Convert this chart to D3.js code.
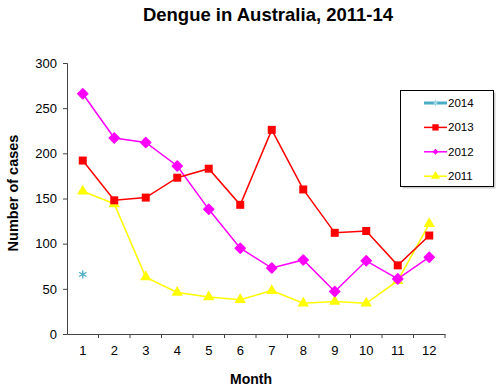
<!DOCTYPE html>
<html><head><meta charset="utf-8">
<script src="https://cdn.jsdelivr.net/npm/d3@7"></script>
<style>body{margin:0;background:#fff}svg{display:block}text{font-family:"Liberation Sans",Arial,sans-serif}</style>
</head><body><svg id="c" width="500" height="390"></svg>
<script>
const months = ["1","2","3","4","5","6","7","8","9","10","11","12"];
const yTicks = [0,50,100,150,200,250,300];
const s2014 = [66,null,null,null,null,null,null,null,null,null,null,null];
const s2013 = [192,148,151,173,183,143,226,160,112,114,76,109];
const s2012 = [266,217,212,186,138,95,73,82,47,81,61,85];
const s2011 = [158,144,63,46,41,38,48,34,36,34,59,122];
const seriesNames = ["2014","2013","2012","2011"];

const svg = d3.select("#c");
const x = d3.scaleBand().domain(months).range([67,445]);
const y = d3.scaleLinear().domain([0,300]).range([334,63]);

svg.append("text").attr("x",268).attr("y",21).attr("text-anchor","middle")
  .attr("font-size",18.5).attr("font-weight","bold").text("Dengue in Australia, 2011-14");

const ya = svg.append("g").attr("transform","translate(67,0)")
  .call(d3.axisLeft(y).tickValues(yTicks).tickSize(4).tickPadding(6));
ya.selectAll("text").attr("font-size",13).attr("fill","#000").style("font-family","Liberation Sans, Arial, sans-serif");
ya.selectAll("line,path").attr("stroke","#444");

const xa = svg.append("g").attr("transform","translate(0,334)")
  .call(d3.axisBottom(x).tickSize(0).tickPadding(12));
xa.selectAll("text").attr("font-size",13).attr("fill","#000").style("font-family","Liberation Sans, Arial, sans-serif");
xa.select("path").attr("stroke","#444");
xa.selectAll("line").remove();
svg.append("g").selectAll("line").data(months.slice(1).concat(["end"])).join("line")
  .attr("x1",d=>d==="end"?445:x(d)).attr("x2",d=>d==="end"?445:x(d))
  .attr("y1",334).attr("y2",338).attr("stroke","#444");

svg.append("text").attr("transform","translate(18,193) rotate(-90)").attr("text-anchor","middle")
  .attr("font-size",14.5).attr("font-weight","bold").text("Number of cases");
svg.append("text").attr("x",251).attr("y",384).attr("text-anchor","middle")
  .attr("font-size",14).attr("font-weight","bold").text("Month");

const cx = d=>x(d.m)+x.bandwidth()/2;
function pts(arr){return arr.map((v,i)=>({m:months[i],v})).filter(d=>d.v!=null);}
const diamond = r => `M0,${-r}L${r},0L0,${r}L${-r},0Z`;

const defs = [
  {name:"2013",data:s2013,color:"#ff0000",sym:d3.symbolSquare,size:64},
  {name:"2012",data:s2012,color:"#ff00ff",dia:5},
  {name:"2011",data:s2011,color:"#ffff00",sym:d3.symbolTriangle,size:55},
];
defs.slice().reverse().forEach(s=>{
  const p = pts(s.data);
  svg.append("path").datum(p).attr("fill","none").attr("stroke",s.color).attr("stroke-width",1.5)
    .attr("d",d3.line().x(cx).y(d=>y(d.v)));
  svg.append("g").selectAll("path").data(p).join("path")
    .attr("transform",d=>`translate(${cx(d)},${y(d.v)})`)
    .attr("d",s.dia?diamond(s.dia):d3.symbol().type(s.sym).size(s.size)).attr("fill",s.color)
    .attr("stroke",s.dia?s.color:"none").attr("stroke-width",s.dia?1.5:0).attr("stroke-linejoin","round");
});
const p14 = pts(s2014);
svg.append("g").selectAll("path").data(p14).join("path")
  .attr("transform",d=>`translate(${cx(d)},${y(d.v)})`)
  .attr("d",d3.symbol().type(d3.symbolAsterisk).size(50)).attr("fill","none").attr("stroke","#4bacc6").attr("stroke-width",1.3);

const lg = svg.append("g");
lg.append("rect").attr("x",402.5).attr("y",92.5).attr("width",93).attr("height",96).attr("fill","#ccc");
lg.append("rect").attr("x",400.5).attr("y",90.5).attr("width",93).attr("height",96).attr("fill","#fff").attr("stroke","#000");
const legItems = [
  {name:"2014",color:"#4bacc6",sym:d3.symbolAsterisk,size:30,star:true},
  {name:"2013",color:"#ff0000",sym:d3.symbolSquare,size:40},
  {name:"2012",color:"#ff00ff",dia:3},
  {name:"2011",color:"#ffff00",sym:d3.symbolTriangle,size:35},
];
legItems.forEach((d,i)=>{
  const yy = 103 + i*24.4;
  lg.append("line").attr("x1",424).attr("x2",447).attr("y1",yy).attr("y2",yy)
    .attr("stroke",d.color).attr("stroke-width",d.star?3:1.5);
  const m = lg.append("path").attr("transform",`translate(435.5,${yy})`).attr("d",d.dia?diamond(d.dia):d3.symbol().type(d.sym).size(d.size));
  if(d.star) m.attr("fill","none").attr("stroke","#9fd8e8").attr("stroke-width",1);
  else m.attr("fill",d.color);
  lg.append("text").attr("x",448).attr("y",yy+4).attr("font-size",11.5).text(d.name);
});
</script></body></html>
